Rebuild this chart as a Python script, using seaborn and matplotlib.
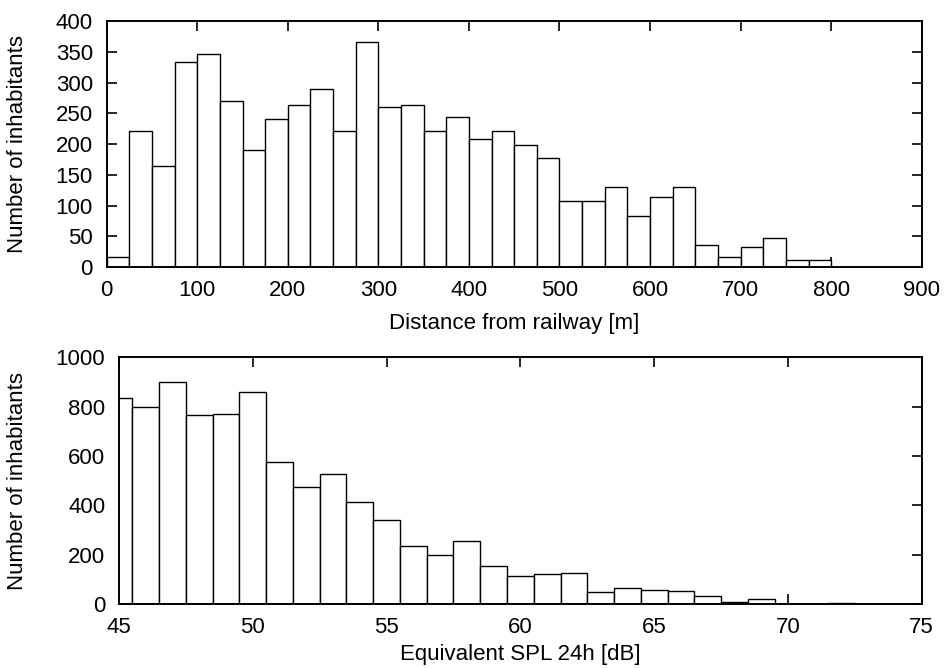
import numpy as np
import matplotlib
matplotlib.use("Agg")
import matplotlib.pyplot as plt
import seaborn as sns

# Distance histogram: 25 m bins starting at 0
dist_bin_width = 25
dist_counts = [16, 221, 165, 333, 347, 270, 190, 241, 263, 290, 222, 367,
               260, 264, 221, 245, 208, 222, 198, 177, 107, 108, 130, 84,
               114, 130, 36, 17, 33, 48, 11, 11]
dist_ticks = [0, 100, 200, 300, 400, 500, 600, 700, 800, 900]
dist_yticks = [0, 50, 100, 150, 200, 250, 300, 350, 400]

# Noise-level histogram: 1 dB bins centred on integer levels
spl_levels = list(range(45, 76))
spl_counts = [834, 800, 901, 766, 772, 861, 574, 474, 528, 414, 342, 234,
              197, 254, 155, 115, 120, 126, 47, 66, 57, 53, 31, 9, 22,
              0, 0, 6, 0, 0, 0]
spl_ticks = [45, 50, 55, 60, 65, 70, 75]
spl_yticks = [0, 200, 400, 600, 800, 1000]

sns.set_style("ticks")
plt.rcParams["font.family"] = ["Liberation Sans", "DejaVu Sans"]
plt.rcParams.update({
    "font.size": 16,
    "text.color": "black",
    "axes.labelcolor": "black",
    "xtick.labelcolor": "black",
    "ytick.labelcolor": "black",
    "xtick.direction": "in",
    "ytick.direction": "in",
    "xtick.top": True,
    "ytick.right": True,
    "xtick.major.size": 7,
    "ytick.major.size": 7,
    "xtick.major.width": 1.2,
    "ytick.major.width": 1.2,
    "axes.linewidth": 1.4,
    "axes.edgecolor": "black",
    "xtick.color": "black",
    "ytick.color": "black",
    "xtick.major.pad": 9,
    "ytick.major.pad": 10,
})

fig = plt.figure(figsize=(9.44, 6.68), dpi=100)
ax1 = fig.add_axes([0.113, 0.600, 0.8634, 0.3682])
ax2 = fig.add_axes([0.1261, 0.0958, 0.8503, 0.3693])

# Top panel
dist_centers = [dist_bin_width * (i + 0.5) for i in range(len(dist_counts))]
dist_edges = [dist_bin_width * i for i in range(len(dist_counts) + 1)]
sns.histplot(x=dist_centers, weights=dist_counts, bins=dist_edges, ax=ax1,
             color="white", edgecolor="black", linewidth=1.0, alpha=1.0)
ax1.set_xlim(dist_ticks[0], dist_ticks[-1])
ax1.set_ylim(dist_yticks[0], dist_yticks[-1])
ax1.set_xticks(dist_ticks)
ax1.set_yticks(dist_yticks)
ax1.set_xlabel("Distance from railway [m]", labelpad=9)
ax1.set_ylabel("Number of inhabitants", labelpad=20)

# Bottom panel
spl_edges = [v - 0.5 for v in spl_levels] + [spl_levels[-1] + 0.5]
sns.histplot(x=spl_levels, weights=spl_counts, bins=spl_edges, ax=ax2,
             color="white", edgecolor="black", linewidth=1.0, alpha=1.0)
ax2.set_xlim(spl_ticks[0], spl_ticks[-1])
ax2.set_ylim(spl_yticks[0], spl_yticks[-1])
ax2.set_xticks(spl_ticks)
ax2.set_yticks(spl_yticks)
ax2.set_xlabel("Equivalent SPL 24h [dB]", labelpad=5)
ax2.set_ylabel("Number of inhabitants", labelpad=20)

for ax in (ax1, ax2):
    for side in ("top", "right", "left", "bottom"):
        ax.spines[side].set_visible(True)
        ax.spines[side].set_zorder(5)

fig.savefig("out.png", dpi=100, facecolor="white")
